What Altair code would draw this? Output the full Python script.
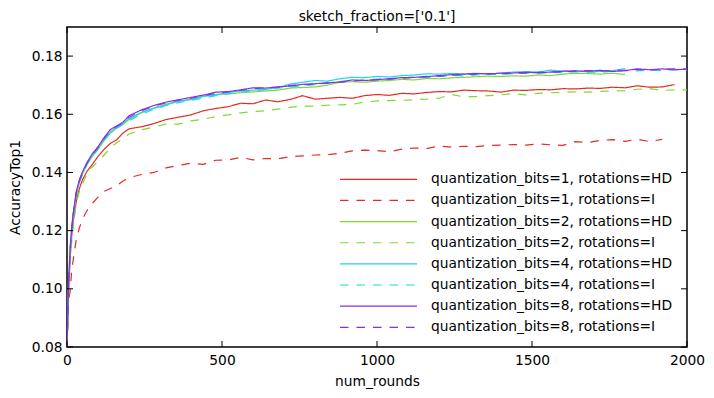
import altair as alt
import pandas as pd

rounds = [0, 5, 10, 15, 20, 30, 40, 50, 65, 80, 100, 120, 140, 160, 180,
          200, 240, 280, 320, 360, 400, 440, 480, 520, 560, 600, 640, 680, 720, 760,
          800, 840, 880, 920, 960, 1000, 1040, 1080, 1120, 1160, 1200, 1240, 1280, 1320,
          1360, 1400, 1440, 1480, 1520, 1560, 1600, 1640, 1680, 1720, 1760, 1800, 1840,
          1880, 1920, 1960, 2000]

q1_hd = [0.080, 0.098, 0.110, 0.118, 0.123, 0.130, 0.1345, 0.1375, 0.1405, 0.1425, 0.1455, 0.148, 0.150, 0.1512, 0.1535,
         0.1550, 0.1557, 0.1568, 0.1582, 0.1590, 0.1598, 0.1612, 0.1620, 0.1626, 0.1638, 0.1636, 0.1649, 0.1643, 0.1651, 0.1664,
         0.1652, 0.1655, 0.1658, 0.1655, 0.1664, 0.1668, 0.1665, 0.1672, 0.1670, 0.1675, 0.1678, 0.1677, 0.1683, 0.1681,
         0.1680, 0.1676, 0.1683, 0.1682, 0.1685, 0.1684, 0.1688, 0.1687, 0.1690, 0.1689, 0.1693, 0.1691, 0.1698,
         0.1693, 0.1694, 0.1702]

q1_i = [0.080, 0.096, 0.099, 0.106, 0.110, 0.117, 0.121, 0.124, 0.127, 0.1292, 0.1315, 0.1335, 0.1345, 0.1355, 0.137,
        0.1382, 0.1393, 0.1400, 0.1416, 0.1424, 0.1432, 0.1428, 0.1442, 0.1443, 0.1452, 0.1443, 0.1448, 0.1447, 0.1454, 0.1457,
        0.1460, 0.1461, 0.1466, 0.1474, 0.1477, 0.1475, 0.1471, 0.1480, 0.1484, 0.1482, 0.1491, 0.1487, 0.1490, 0.1489,
        0.1493, 0.1494, 0.1496, 0.1494, 0.1498, 0.1495, 0.1493, 0.1506, 0.1503, 0.1510, 0.1513, 0.1507, 0.1514,
        0.1506, 0.1514]

q2_hd = [0.080, 0.101, 0.113, 0.120, 0.125, 0.1325, 0.1365, 0.1395, 0.1428, 0.1452, 0.148, 0.151, 0.1535, 0.1552, 0.1565,
         0.1582, 0.1605, 0.1622, 0.1635, 0.1645, 0.1652, 0.1662, 0.1668, 0.1670, 0.1674, 0.1677, 0.1680, 0.1683, 0.1690, 0.1692,
         0.1694, 0.1700, 0.1710, 0.1712, 0.1710, 0.1714, 0.1716, 0.1720, 0.1718, 0.1723, 0.1722, 0.1725, 0.1727, 0.1729,
         0.1731, 0.1730, 0.1732, 0.1731, 0.1735, 0.1733, 0.1738, 0.1741, 0.1740, 0.1738, 0.1741, 0.1737]

q2_i = [0.080, 0.098, 0.108, 0.116, 0.121, 0.1295, 0.1335, 0.1362, 0.1395, 0.1418, 0.1438, 0.146, 0.1485, 0.1502, 0.1515,
        0.1532, 0.1547, 0.1556, 0.1567, 0.1566, 0.1577, 0.1583, 0.1592, 0.1598, 0.1605, 0.1609, 0.1612, 0.1618, 0.1624, 0.1628,
        0.1628, 0.1631, 0.1632, 0.1634, 0.1642, 0.1646, 0.1647, 0.1648, 0.1650, 0.1652, 0.1655, 0.1668, 0.1660, 0.1661,
        0.1664, 0.1667, 0.1671, 0.1667, 0.1672, 0.1674, 0.1676, 0.1677, 0.1676, 0.1679, 0.1680, 0.1681, 0.1686,
        0.1688, 0.1682, 0.1684, 0.1684]

q4_hd = [0.080, 0.101, 0.113, 0.120, 0.1255, 0.1330, 0.1370, 0.1398, 0.1432, 0.1457, 0.1484, 0.1515, 0.1540, 0.1555, 0.1568,
         0.1585, 0.1607, 0.1620, 0.1632, 0.1645, 0.1650, 0.1662, 0.1666, 0.1675, 0.1680, 0.1683, 0.1685, 0.1692, 0.1704, 0.1710,
         0.1716, 0.1714, 0.1722, 0.1727, 0.1726, 0.1730, 0.1728, 0.1733, 0.1735, 0.1739, 0.1738, 0.1740, 0.1739, 0.1741,
         0.1738, 0.1742, 0.1745, 0.1747, 0.1745, 0.1752, 0.1748, 0.1749, 0.1746, 0.1747, 0.1750, 0.1757]

q4_i = [0.080, 0.100, 0.112, 0.119, 0.1245, 0.1322, 0.1365, 0.1395, 0.1428, 0.1455, 0.1480, 0.1512, 0.1535, 0.1552, 0.1565,
        0.1578, 0.1600, 0.1617, 0.1630, 0.1640, 0.1648, 0.1655, 0.1664, 0.1670, 0.1676, 0.1680, 0.1685, 0.1690, 0.1693, 0.1698,
        0.1702, 0.1707, 0.1712, 0.1715, 0.1718, 0.1721, 0.1720, 0.1725, 0.1727, 0.1726, 0.1730, 0.1733, 0.1732, 0.1735,
        0.1738, 0.1737, 0.1740, 0.1742, 0.1740, 0.1744, 0.1743, 0.1746, 0.1745, 0.1744, 0.1748, 0.1750, 0.1749,
        0.1752, 0.1750, 0.1753, 0.1752]

q8_hd = [0.080, 0.102, 0.114, 0.121, 0.126, 0.1335, 0.1375, 0.1402, 0.1435, 0.1462, 0.1488, 0.1520, 0.1548, 0.1560, 0.1572,
         0.1595, 0.1615, 0.1630, 0.1642, 0.1650, 0.1658, 0.1666, 0.1676, 0.1678, 0.1684, 0.1691, 0.1690, 0.1694, 0.1697, 0.1703,
         0.1705, 0.1708, 0.1711, 0.1718, 0.1716, 0.1719, 0.1722, 0.1726, 0.1727, 0.1729, 0.1733, 0.1736, 0.1738, 0.1740,
         0.1739, 0.1741, 0.1742, 0.1744, 0.1743, 0.1745, 0.1748, 0.1749, 0.1748, 0.1751, 0.1747, 0.1750, 0.1756,
         0.1753, 0.1756, 0.1753, 0.1755]

q8_i = [0.080, 0.101, 0.113, 0.120, 0.1255, 0.1330, 0.1372, 0.1400, 0.1433, 0.1460, 0.1486, 0.1518, 0.1545, 0.1558, 0.1570,
        0.1590, 0.1612, 0.1627, 0.1640, 0.1648, 0.1655, 0.1664, 0.1672, 0.1677, 0.1682, 0.1688, 0.1691, 0.1693, 0.1699, 0.1701,
        0.1704, 0.1707, 0.1710, 0.1714, 0.1717, 0.1718, 0.1721, 0.1724, 0.1726, 0.1730, 0.1731, 0.1734, 0.1737, 0.1738,
        0.1740, 0.1739, 0.1742, 0.1741, 0.1744, 0.1746, 0.1745, 0.1748, 0.1750, 0.1749, 0.1751, 0.1752, 0.1754,
        0.1752, 0.1755, 0.1756, 0.1756]

labels = ["quantization_bits=1, rotations=HD", "quantization_bits=1, rotations=I",
          "quantization_bits=2, rotations=HD", "quantization_bits=2, rotations=I",
          "quantization_bits=4, rotations=HD", "quantization_bits=4, rotations=I",
          "quantization_bits=8, rotations=HD", "quantization_bits=8, rotations=I"]
series_values = [q1_hd, q1_i, q2_hd, q2_i, q4_hd, q4_i, q8_hd, q8_i]
colors = ["#e42a24", "#e42a24", "#7edb2c", "#7edb2c", "#1fd6e4", "#1fd6e4", "#8a2ee6", "#8a2ee6"]
dashes = [[1, 0], [8.5, 8], [1, 0], [8.5, 8], [1, 0], [8.5, 8], [1, 0], [8.5, 8]]

x_ticks = [0, 500, 1000, 1500, 2000]
y_ticks = [0.08, 0.10, 0.12, 0.14, 0.16, 0.18]

W, H = 620, 320
FONT = "DejaVu Sans"
FS = 13.8

rows = []
for i, (lab, vals) in enumerate(zip(labels, series_values)):
    for r, v in zip(rounds, vals):
        rows.append({"series": lab, "order": i, "num_rounds": r, "acc": v})
df = pd.DataFrame(rows)

xscale = alt.Scale(domain=[0, 2000], nice=False, zero=False)
yscale = alt.Scale(domain=[0.08, 0.19], nice=False, zero=False)
cscale = alt.Scale(domain=labels, range=colors)
dscale = alt.Scale(domain=labels, range=dashes)

xaxis = alt.Axis(values=x_ticks, ticks=False, tickSize=0, domain=False, grid=False,
                 labelPadding=6, titlePadding=8, format="d", labelFlush=False,
                 labelFont=FONT, titleFont=FONT, labelFontSize=FS, titleFontSize=FS,
                 labelColor="black", titleColor="black", titleFontWeight="normal")
yaxis = alt.Axis(values=y_ticks, ticks=False, tickSize=0, domain=False, grid=False,
                 labelPadding=5, titlePadding=9, format=".2f", labelFlush=False,
                 labelFont=FONT, titleFont=FONT, labelFontSize=FS, titleFontSize=FS,
                 labelColor="black", titleColor="black", titleFontWeight="normal")

lines = alt.Chart(df).mark_line(strokeWidth=1.2, clip=True).encode(
    x=alt.X("num_rounds:Q", scale=xscale, title="num_rounds", axis=xaxis),
    y=alt.Y("acc:Q", scale=yscale, title="AccuracyTop1", axis=yaxis),
    color=alt.Color("series:N", scale=cscale, legend=None),
    strokeDash=alt.StrokeDash("series:N", scale=dscale, legend=None),
    detail="series:N",
)

xt = pd.DataFrame({"t": x_ticks})
yt = pd.DataFrame({"t": y_ticks})

top_ticks = alt.Chart(xt).mark_rule(color="black", strokeWidth=1).encode(
    x=alt.X("t:Q", scale=xscale, title="num_rounds", axis=xaxis), y=alt.value(0), y2=alt.value(6))
bot_ticks = alt.Chart(xt).mark_rule(color="black", strokeWidth=1).encode(
    x=alt.X("t:Q", scale=xscale, title="num_rounds", axis=xaxis), y=alt.value(H - 6), y2=alt.value(H))
left_ticks = alt.Chart(yt).mark_rule(color="black", strokeWidth=1).encode(
    y=alt.Y("t:Q", scale=yscale, axis=None), x=alt.value(0), x2=alt.value(6))
right_ticks = alt.Chart(yt).mark_rule(color="black", strokeWidth=1).encode(
    y=alt.Y("t:Q", scale=yscale, axis=None), x=alt.value(W - 6), x2=alt.value(W))

leg = pd.DataFrame({"series": labels, "idx": list(range(len(labels)))})
lscale = alt.Scale(domain=[0, 7], range=[152.3, 300.3], nice=False, zero=False)
leg_lines = alt.Chart(leg).mark_rule(strokeWidth=1.2).encode(
    y=alt.Y("idx:Q", scale=lscale, axis=None),
    x=alt.value(273), x2=alt.value(350),
    color=alt.Color("series:N", scale=cscale, legend=None),
    strokeDash=alt.StrokeDash("series:N", scale=dscale, legend=None),
)
leg_text = alt.Chart(leg).mark_text(align="left", baseline="middle", font=FONT,
                                    fontSize=FS, color="black").encode(
    y=alt.Y("idx:Q", scale=lscale, axis=None),
    x=alt.value(364),
    text="series:N",
)

chart = alt.layer(lines, top_ticks, bot_ticks, left_ticks, right_ticks, leg_lines, leg_text).resolve_scale(
    y="independent", color="independent", strokeDash="independent"
).properties(
    width=W, height=H,
    background="white",
    title=alt.Title("sketch_fraction=['0.1']", font=FONT, fontSize=FS, fontWeight="normal",
                    color="black", offset=3, anchor="middle"),
    autosize=alt.AutoSizeParams(type="none"),
    padding={"left": 59, "top": 19, "right": 19, "bottom": 43},
).configure_view(
    stroke="black", strokeWidth=1.5
)

chart.save("out.html", embed_options={"renderer": "svg", "actions": False})
